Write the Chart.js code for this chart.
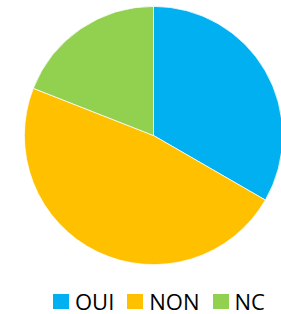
<!DOCTYPE html>
<html>
<head>
<meta charset="utf-8">
<script src="https://cdn.jsdelivr.net/npm/chart.js@4/dist/chart.umd.min.js"></script>
<style>
  html, body { margin: 0; padding: 0; background: #fff; overflow: hidden; }
  body { width: 281px; height: 314px; position: relative; }
  #wrap { position: absolute; left: 0; top: 0; width: 307px; height: 270px; }
  #legend {
    position: absolute; left: 53px; top: 287px;
    display: flex; align-items: center;
    font-family: "Open Sans", sans-serif; font-size: 22px; color: #000;
    line-height: 28px;
  }
  #legend .item { display: flex; align-items: center; margin-right: 13px; }
  #legend .box { width: 16px; height: 15px; margin-right: 6px; margin-top: 1px; }
</style>
</head>
<body>
<div id="wrap"><canvas id="myChart"></canvas></div>
<div id="legend"></div>
<script>
// data
const labels = ['OUI', 'NON', 'NC'];
const values = [35, 50, 20];
const colors = ['#00B0F0', '#FFC000', '#92D050'];

const ctx = document.getElementById('myChart').getContext('2d');

const myChart = new Chart(ctx, {
  type: 'pie',
  data: {
    labels: labels,
    datasets: [
      {
        data: values,
        backgroundColor: colors,
        borderColor: '#ffffff',
        borderWidth: 0.75,
      },
    ],
  },
  options: {
    responsive: true,
    maintainAspectRatio: false,
    animation: false,
    layout: { padding: { top: 6, bottom: 5, left: 0, right: 0 } },
    plugins: {
      legend: { display: false },
      tooltip: { enabled: false },
    },
  },
});

// legend built from the same arrays
const legend = document.getElementById('legend');
labels.forEach((l, i) => {
  const item = document.createElement('div');
  item.className = 'item';
  const box = document.createElement('span');
  box.className = 'box';
  box.style.background = colors[i];
  const txt = document.createElement('span');
  txt.textContent = l;
  item.appendChild(box);
  item.appendChild(txt);
  legend.appendChild(item);
});
</script>
</body>
</html>
